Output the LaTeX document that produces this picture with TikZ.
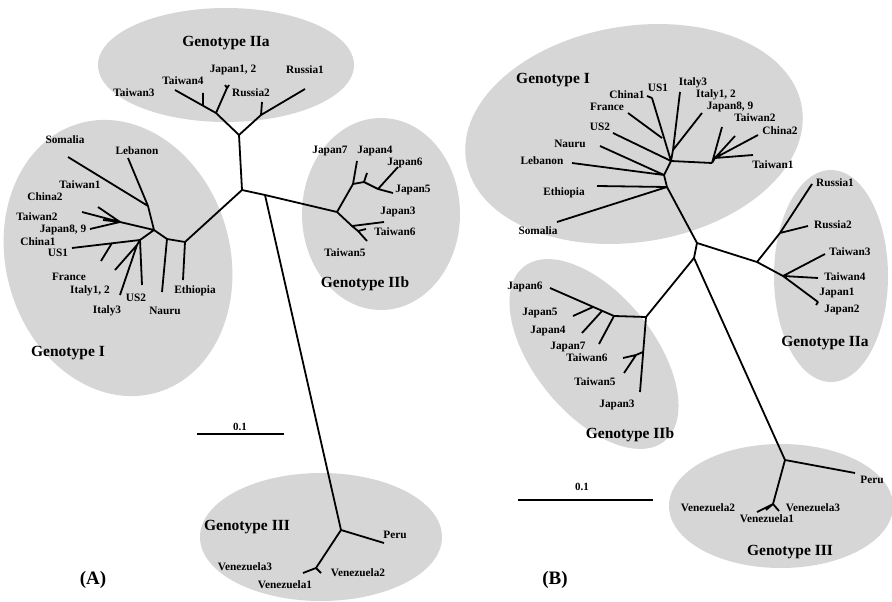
\documentclass[tikz,border=0pt]{standalone}
\usepackage{fontspec}
\setmainfont{Liberation Serif}
\definecolor{blobgray}{RGB}{214,214,214}
\begin{document}
\begin{tikzpicture}[x=1pt,y=-1pt,
  br/.style={line width=1.8pt, line join=round},
  blob/.style={fill=blobgray},
  lbl/.style={font=\bfseries\fontsize{11.3}{13}\selectfont, inner sep=0pt},
  gen/.style={font=\bfseries\fontsize{15.5}{17}\selectfont, inner sep=0pt},
  pan/.style={font=\bfseries\fontsize{19}{21}\selectfont, inner sep=0pt},
  scl/.style={font=\bfseries\fontsize{11}{12}\selectfont, inner sep=0pt}]
\useasboundingbox[fill=white] (0,0) rectangle (892,602);

% ---------- ellipses ----------
\fill[blob] (226,65) ellipse [x radius=128, y radius=57];
\fill[blob] (381,214) ellipse [x radius=79, y radius=96];
\fill[blob, shift={(118,258)}, rotate=16] (0,0) ellipse [x radius=112, y radius=140];
\fill[blob] (321,537) ellipse [x radius=121, y radius=64];
\fill[blob, shift={(634,134)}, rotate=9] (0,0) ellipse [x radius=170, y radius=108];
\fill[blob] (831,276) ellipse [x radius=57, y radius=106];
\fill[blob, shift={(594,354)}, rotate=-51] (0,0) ellipse [x radius=112, y radius=60];
\fill[blob] (781,506) ellipse [x radius=112, y radius=62];

% ================= PANEL A =================
\coordinate (cA) at (242,190);
\coordinate (nIIa) at (239,135);
\coordinate (a1) at (216,113);
\coordinate (tTw3) at (175,90);
\coordinate (bTw4) at (203,106);
\coordinate (tTw4) at (203,93);
\coordinate (tJp12) at (227,88);
\coordinate (tJp12a) at (225,85);
\coordinate (tJp12b) at (229,85);
\coordinate (a2) at (261,115);
\coordinate (tRu1) at (305,89);
\coordinate (tRu2) at (262,102);
\draw[br] (cA) -- (nIIa) (nIIa) -- (a1) (a1) -- (tTw3) (bTw4) -- (tTw4)
  (a1) -- (tJp12) (tJp12) -- (tJp12a) (tJp12) -- (tJp12b)
  (nIIa) -- (a2) (a2) -- (tRu1) (a2) -- (tRu2);

\coordinate (n1) at (265,195);
\coordinate (b0) at (337,212);
\coordinate (b1) at (353,184);
\coordinate (tJp7) at (357,161);
\coordinate (b2) at (364,182);
\coordinate (tJp4) at (367,173);
\coordinate (b3) at (378,189);
\coordinate (tJp6) at (398,167);
\coordinate (tJp5) at (393,193);
\coordinate (b4) at (352,226);
\coordinate (tJp3) at (384,222);
\coordinate (b5) at (358,231);
\coordinate (tTw6) at (366,229);
\coordinate (tTw5) at (367,241);
\draw[br] (cA) -- (n1) (n1) -- (b0) (b0) -- (b1) (b1) -- (tJp7) (b1) -- (b2) (b2) -- (tJp4)
  (b2) -- (b3) (b3) -- (tJp6) (b3) -- (tJp5)
  (b0) -- (b4) (b4) -- (tJp3) (b4) -- (b5) (b5) -- (tTw5) (b5) -- (tTw6);

\coordinate (g0) at (185,242);
\coordinate (tEth) at (183,280);
\coordinate (g1) at (167,239);
\coordinate (tNau) at (162,292);
\coordinate (g2) at (154,230);
\coordinate (g3) at (148,206);
\coordinate (tSom) at (68,157);
\coordinate (tLeb) at (128,158);
\coordinate (g4) at (120,222);
\coordinate (tF1) at (98,207);
\coordinate (tF2) at (82,212);
\coordinate (tF3) at (103,220);
\coordinate (tF4) at (90,229);
\coordinate (g5) at (140,240);
\coordinate (tUS1) at (72,248);
\coordinate (bCh1) at (112,243);
\coordinate (tCh1) at (101,261);
\coordinate (tUS2) at (142,285);
\coordinate (g6) at (137,245);
\coordinate (tIt12) at (115,270);
\coordinate (tIt3) at (120,295);
\draw[br] (cA) -- (g0) (g0) -- (tEth) (g0) -- (g1) (g1) -- (tNau) (g1) -- (g2)
  (g2) -- (g3) (g3) -- (tSom) (g3) -- (tLeb)
  (g2) -- (g4) (g4) -- (tF1) (g4) -- (tF2) (g4) -- (tF3) (g4) -- (tF4)
  (g2) -- (g5) (g5) -- (tUS1) (bCh1) -- (tCh1) (g5) -- (tUS2)
  (g5) -- (g6) (g6) -- (tIt12) (g6) -- (tIt3);

\coordinate (nIIIA) at (341,530);
\coordinate (tPeA) at (384,543);
\coordinate (vA) at (316,568);
\coordinate (tVa) at (303,573);
\coordinate (tVb) at (321,573);
\draw[br] (n1) -- (nIIIA) (nIIIA) -- (tPeA) (nIIIA) -- (vA) (vA) -- (tVa) (vA) -- (tVb);

\coordinate (sAl) at (197,434);
\coordinate (sAr) at (284,434);
\draw[br] (sAl) -- (sAr);

\node[gen] (A-gIIa) at (226,43) {Genotype IIa};
\node[lbl] (A-jp12) at (233,70) {Japan1, 2};
\node[lbl] (A-ru1) at (305,70) {Russia1};
\node[lbl] (A-tw4) at (183,81) {Taiwan4};
\node[lbl] (A-ru2) at (251,93) {Russia2};
\node[lbl] (A-tw3) at (134,93) {Taiwan3};
\node[lbl] (A-jp7) at (330,151) {Japan7};
\node[lbl] (A-jp4) at (375,151) {Japan4};
\node[lbl] (A-jp6) at (405,163) {Japan6};
\node[lbl] (A-jp5) at (413,190) {Japan5};
\node[lbl] (A-jp3) at (398,212) {Japan3};
\node[lbl] (A-tw6) at (395,232) {Taiwan6};
\node[lbl] (A-tw5) at (345,253) {Taiwan5};
\node[gen] (A-gIIb) at (365,284) {Genotype IIb};
\node[lbl] (A-som) at (65,140) {Somalia};
\node[lbl] (A-leb) at (137,151) {Lebanon};
\node[lbl] (A-tw1) at (80,185) {Taiwan1};
\node[lbl] (A-ch2) at (45,197) {China2};
\node[lbl] (A-tw2) at (37,217) {Taiwan2};
\node[lbl] (A-jp89) at (63,230) {Japan8, 9};
\node[lbl] (A-ch1) at (38,242) {China1};
\node[lbl] (A-us1) at (58,253) {US1};
\node[lbl] (A-fr) at (69,277) {France};
\node[lbl] (A-it12) at (90,291) {Italy1, 2};
\node[lbl] (A-it3) at (107,311) {Italy3};
\node[lbl] (A-us2) at (136,298) {US2};
\node[lbl] (A-nau) at (165,311) {Nauru};
\node[lbl] (A-eth) at (195,291) {Ethiopia};
\node[gen] (A-gI) at (68,353) {Genotype I};
\node[scl] (A-scale) at (240,427) {0.1};
\node[gen] (A-gIII) at (247,527) {Genotype III};
\node[lbl] (A-peru) at (395,535) {Peru};
\node[lbl] (A-ve3) at (245,567) {Venezuela3};
\node[lbl] (A-ve2) at (358,573) {Venezuela2};
\node[lbl] (A-ve1) at (285,585) {Venezuela1};
\node[pan] (A-panel) at (93,580) {(A)};

% ================= PANEL B =================
\coordinate (cB) at (697,243);
\coordinate (i0) at (667,187);
\coordinate (tEthB) at (597,186);
\coordinate (tSomB) at (557,222);
\coordinate (i1) at (664,175);
\coordinate (tLebB) at (572,163);
\coordinate (tNauB) at (600,146);
\coordinate (i2) at (671,161);
\coordinate (tUS2B) at (613,133);
\coordinate (tUS1B) at (652,98);
\coordinate (tCh1B) at (647,96);
\coordinate (bFrB) at (662,138);
\coordinate (tFrB) at (628,113);
\coordinate (i2b) at (673,150);
\coordinate (tIt3B) at (680,92);
\coordinate (tIt12B) at (702,113);
\coordinate (i3) at (712,163);
\coordinate (tTw2B) at (722,127);
\coordinate (i4) at (715,158);
\coordinate (tFa) at (735,136);
\coordinate (tFb) at (758,135);
\coordinate (tFc) at (753,155);
\draw[br] (cB) -- (i0) (i0) -- (tEthB) (i0) -- (tSomB) (i0) -- (i1) (i1) -- (tLebB) (i1) -- (tNauB)
  (i1) -- (i2) (i2) -- (tUS2B) (i2) -- (tUS1B) (tUS1B) -- (tCh1B) (bFrB) -- (tFrB)
  (i2) -- (i2b) (i2b) -- (tIt3B) (i2b) -- (tIt12B)
  (i2) -- (i3) (i3) -- (tTw2B) (i3) -- (i4) (i4) -- (tFa) (i4) -- (tFb) (i4) -- (tFc);

\coordinate (r0) at (757,262);
\coordinate (r1) at (780,233);
\coordinate (tRu1B) at (812,184);
\coordinate (tRu2B) at (808,226);
\coordinate (r2) at (783,276);
\coordinate (tTw3B) at (825,254);
\coordinate (tTw4B) at (818,278);
\coordinate (tJpB) at (818,302);
\coordinate (tJpBa) at (816,305);
\draw[br] (cB) -- (r0) (r0) -- (r1) (r1) -- (tRu1B) (r1) -- (tRu2B)
  (r0) -- (r2) (r2) -- (tTw3B) (r2) -- (tTw4B) (r2) -- (tJpB) (tJpB) -- (tJpBa);

\coordinate (jB) at (694,258);
\coordinate (p0) at (646,317);
\coordinate (p1) at (614,316);
\coordinate (tJp6B) at (550,288);
\coordinate (bJp4B) at (602,311);
\coordinate (tJp4B) at (582,333);
\coordinate (bJp5B) at (593,307);
\coordinate (tJp5B) at (573,316);
\coordinate (tJp7B) at (599,344);
\coordinate (tJp3B) at (640,392);
\coordinate (q0) at (643,352);
\coordinate (q1) at (636,355);
\coordinate (tTw6B) at (623,358);
\coordinate (tTw5B) at (624,373);
\draw[br] (cB) -- (jB) (jB) -- (p0) (p0) -- (p1) (p1) -- (tJp6B) (bJp4B) -- (tJp4B) (bJp5B) -- (tJp5B)
  (p1) -- (tJp7B) (p0) -- (tJp3B) (q0) -- (q1) (q1) -- (tTw6B) (q1) -- (tTw5B);

\coordinate (nIIIB) at (785,460);
\coordinate (tPeB) at (855,473);
\coordinate (vB) at (773,504);
\coordinate (tVBa) at (757,512);
\coordinate (tVBb) at (779,511);
\coordinate (tVBc) at (766,510);
\draw[br] (jB) -- (nIIIB) (nIIIB) -- (tPeB) (nIIIB) -- (vB) (vB) -- (tVBa) (vB) -- (tVBb) (vB) -- (tVBc);

\coordinate (sBl) at (518,500);
\coordinate (sBr) at (653,500);
\draw[br] (sBl) -- (sBr);

\node[gen] (B-gI) at (553,80) {Genotype I};
\node[lbl] (B-ch1) at (627,95) {China1};
\node[lbl] (B-us1) at (658,88) {US1};
\node[lbl] (B-it3) at (693,83) {Italy3};
\node[lbl] (B-it12) at (716,95) {Italy1, 2};
\node[lbl] (B-jp89) at (730,107) {Japan8, 9};
\node[lbl] (B-tw2) at (755,118) {Taiwan2};
\node[lbl] (B-ch2) at (780,131) {China2};
\node[lbl] (B-tw1) at (773,165) {Taiwan1};
\node[lbl] (B-fr) at (607,107) {France};
\node[lbl] (B-us2) at (600,127) {US2};
\node[lbl] (B-nau) at (570,144) {Nauru};
\node[lbl] (B-leb) at (542,161) {Lebanon};
\node[lbl] (B-eth) at (564,193) {Ethiopia};
\node[lbl] (B-som) at (538,231) {Somalia};
\node[lbl] (B-ru1) at (835,183) {Russia1};
\node[lbl] (B-ru2) at (833,225) {Russia2};
\node[lbl] (B-tw3) at (850,252) {Taiwan3};
\node[lbl] (B-tw4) at (845,277) {Taiwan4};
\node[lbl] (B-jp1) at (837,293) {Japan1};
\node[lbl] (B-jp2) at (842,310) {Japan2};
\node[gen] (B-gIIa) at (825,343) {Genotype IIa};
\node[lbl] (B-jp6) at (525,287) {Japan6};
\node[lbl] (B-jp5) at (540,313) {Japan5};
\node[lbl] (B-jp4) at (548,331) {Japan4};
\node[lbl] (B-jp7) at (568,347) {Japan7};
\node[lbl] (B-tw6) at (587,358) {Taiwan6};
\node[lbl] (B-tw5) at (595,382) {Taiwan5};
\node[lbl] (B-jp3) at (617,405) {Japan3};
\node[gen] (B-gIIb) at (630,435) {Genotype IIb};
\node[scl] (B-scale) at (582,487) {0.1};
\node[lbl] (B-peru) at (872,480) {Peru};
\node[lbl] (B-ve2) at (708,508) {Venezuela2};
\node[lbl] (B-ve3) at (813,508) {Venezuela3};
\node[lbl] (B-ve1) at (767,519) {Venezuela1};
\node[gen] (B-gIII) at (790,552) {Genotype III};
\node[pan] (B-panel) at (555,580) {(B)};
\end{tikzpicture}
\end{document}
